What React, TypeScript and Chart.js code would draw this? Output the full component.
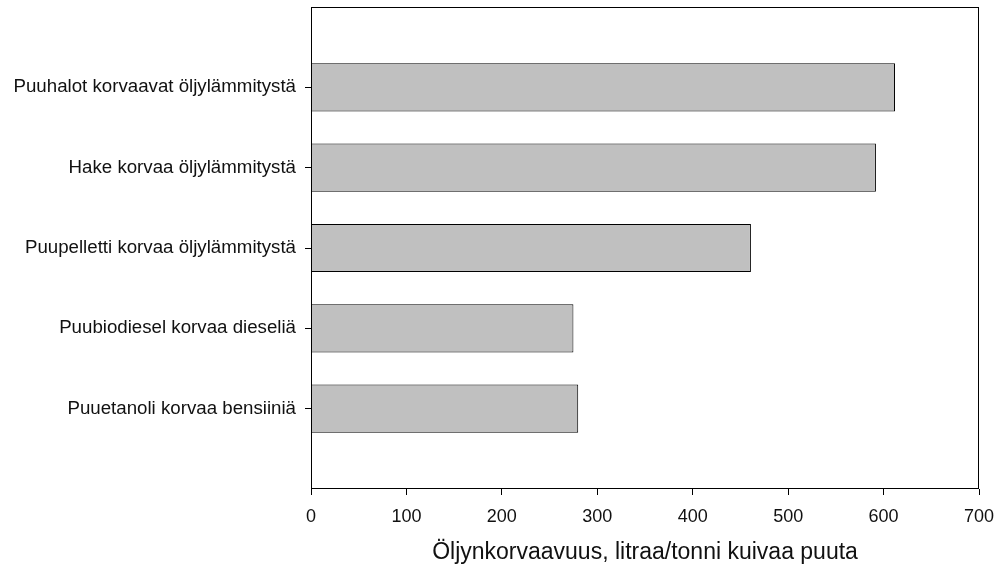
import React, { useEffect, useRef } from "react";
import { Chart, registerables } from "chart.js";

Chart.register(...registerables);

const categories = [
  "",
  "Puuhalot korvaavat öljylämmitystä",
  "Hake korvaa öljylämmitystä",
  "Puupelletti korvaa öljylämmitystä",
  "Puubiodiesel korvaa dieseliä",
  "Puuetanoli korvaa bensiiniä",
  "",
];
const values: (number | null)[] = [null, 612, 592, 461, 275, 280, null];
const xTicks = [0, 100, 200, 300, 400, 500, 600, 700];
const xTitle = "Öljynkorvaavuus, litraa/tonni kuivaa puuta";

const FONT = "'Liberation Sans', Arial, Helvetica, sans-serif";

const boxPlugin = {
  id: "boxPlugin",
  afterDraw(chart: any) {
    const { ctx, chartArea } = chart;
    ctx.save();
    ctx.strokeStyle = "#000";
    ctx.lineWidth = 1;
    const l = Math.round(chartArea.left) + 0.5;
    const r = Math.round(chartArea.right) - 0.5;
    const t = Math.round(chartArea.top) + 0.5;
    const b = Math.round(chartArea.bottom) - 0.5;
    ctx.strokeRect(l, t, r - l, b - t);
    ctx.restore();
  },
};

export default function App() {
  const ref = useRef<HTMLCanvasElement | null>(null);
  useEffect(() => {
    if (!ref.current) return;
    const chart = new Chart(ref.current, {
      type: "bar",
      data: {
        labels: categories,
        datasets: [
          {
            data: values,
            backgroundColor: "#c0c0c0",
            borderColor: "#000",
            borderWidth: 1,
            barPercentage: 0.6,
            categoryPercentage: 1,
          },
        ],
      },
      options: {
        indexAxis: "y",
        animation: false,
        responsive: false,
        maintainAspectRatio: false,
        layout: { padding: { left: 0, top: 7, right: 18, bottom: 0 } },
        plugins: {
          legend: { display: false },
          tooltip: { enabled: false },
        },
        scales: {
          x: {
            type: "linear",
            min: 0,
            max: 700,
            afterBuildTicks: (scale: any) => {
              scale.ticks = xTicks.map((v) => ({ value: v }));
            },
            afterFit: (scale: any) => {
              scale.height = 84;
              scale.paddingLeft = 0;
              scale.paddingRight = 0;
            },
            grid: {
              drawOnChartArea: false,
              drawTicks: true,
              tickLength: 6,
              color: "#000",
              tickColor: "#000",
            },
            border: { display: false },
            ticks: {
              color: "#111",
              font: { family: FONT, size: 18 },
              padding: 11,
              maxRotation: 0,
            },
            title: {
              display: true,
              text: xTitle,
              color: "#111",
              font: { family: FONT, size: 23 },
              padding: { top: 4, bottom: 7 },
            },
          },
          y: {
            type: "category",
            offset: false,
            afterFit: (scale: any) => {
              scale.width = 311;
              scale.paddingTop = 0;
              scale.paddingBottom = 0;
            },
            grid: {
              offset: false,
              drawOnChartArea: false,
              drawTicks: true,
              tickLength: 6,
              color: "#000",
              tickColor: (ctx: any) =>
                ctx.index === 0 || ctx.index === categories.length - 1
                  ? "rgba(0,0,0,0)"
                  : "#000",
            },
            border: { display: false },
            ticks: {
              color: "#111",
              font: { family: FONT, size: 18.7 },
              padding: 9,
              autoSkip: false,
            },
          },
        },
      },
      plugins: [boxPlugin],
    });
    return () => chart.destroy();
  }, []);
  return (
    <div style={{ position: "absolute", left: 0, top: 0, width: 997, height: 573 }}>
      <canvas ref={ref} width={997} height={573} style={{ display: "block" }} />
    </div>
  );
}
